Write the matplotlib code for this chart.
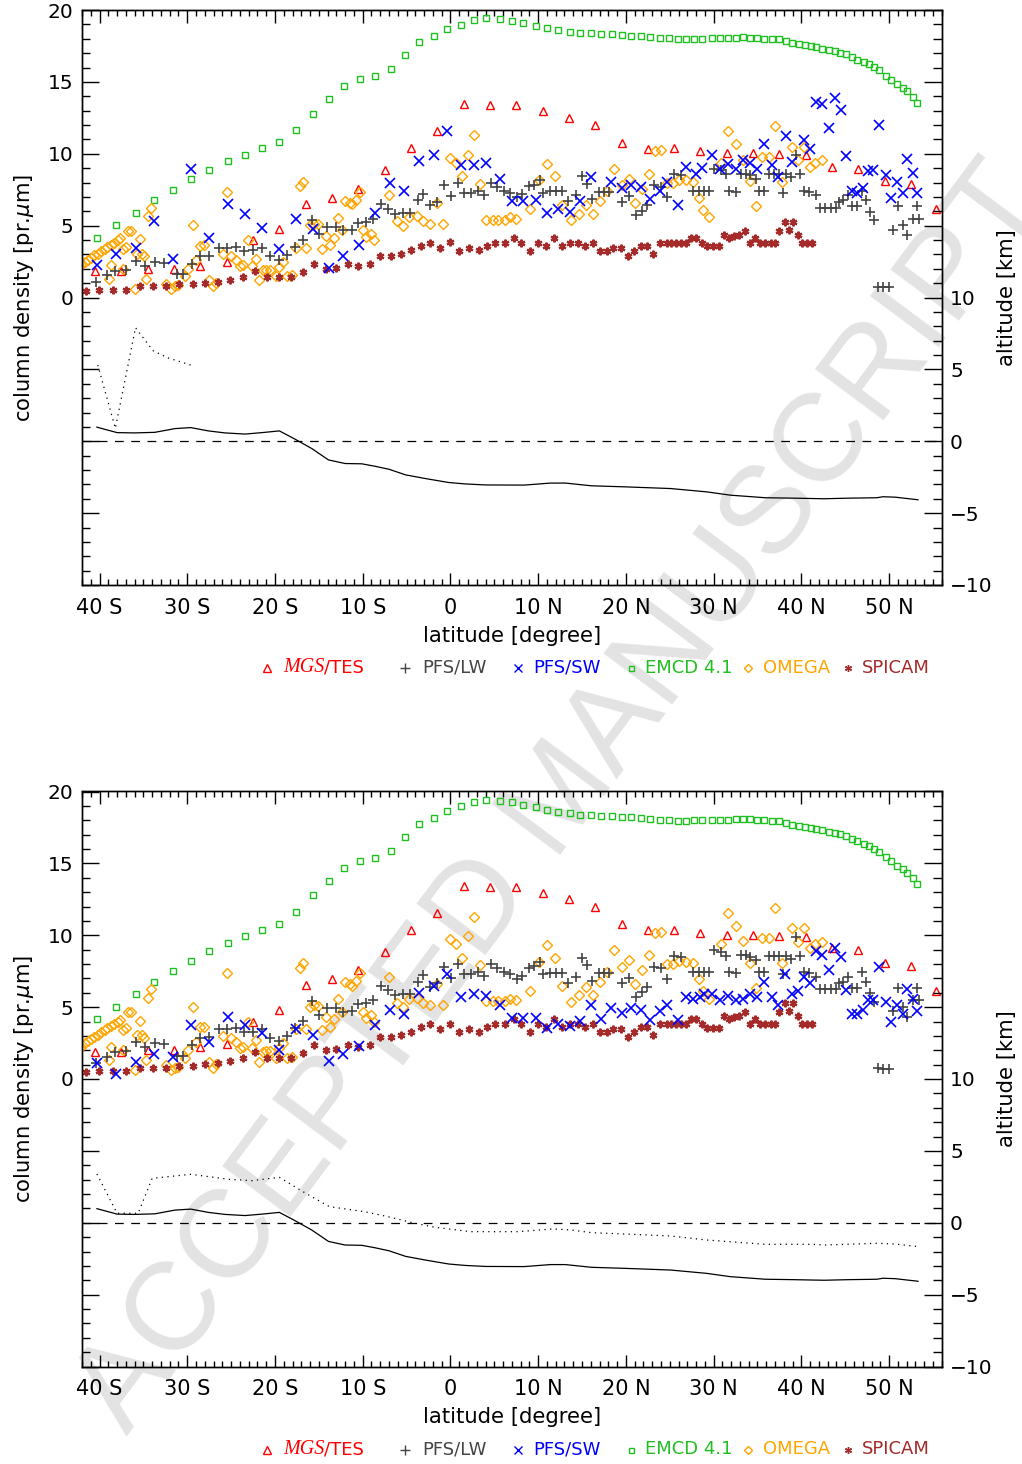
import numpy as np
import matplotlib
matplotlib.use("Agg")
import matplotlib.pyplot as plt
from matplotlib.ticker import MultipleLocator, FixedLocator, FuncFormatter
from matplotlib.lines import Line2D

plt.rcParams['font.family'] = ['DejaVu Sans']

# ---------------- data (latitude in degrees, column density in pr.um) ----------------
emcd_lat = [-40.3, -38.1, -35.8, -33.8, -31.6, -29.6, -27.5, -25.4, -23.4, -21.5, -19.5, -17.6,
            -15.7, -13.9, -12.1, -10.3, -8.6, -6.8, -5.2, -3.6, -1.9, -0.4, 1.2, 2.7, 4.1, 5.6,
            7.0, 8.3, 9.7, 11.0, 12.3, 13.6, 14.8, 16.0, 17.2, 18.4, 19.5, 20.6, 21.7, 22.8,
            23.9, 24.9, 25.9, 26.8, 27.8, 28.7, 29.8, 30.7, 31.6, 32.5, 33.3, 34.1, 34.9, 35.8,
            36.6, 37.4, 38.2, 38.9, 39.7, 40.4, 41.1, 41.7, 42.4, 43.1, 43.8, 44.4, 45.1, 45.8,
            46.4, 47.1, 47.7, 48.3, 48.9, 49.6, 50.2, 50.9, 51.6, 52.1, 52.7, 53.2]
emcd_val = [4.14, 5.02, 5.90, 6.76, 7.48, 8.22, 8.89, 9.47, 9.94, 10.38, 10.80, 11.63,
            12.79, 13.79, 14.69, 15.20, 15.38, 15.89, 16.85, 17.75, 18.19, 18.65, 18.98, 19.28,
            19.44, 19.35, 19.26, 19.09, 18.91, 18.72, 18.58, 18.49, 18.40, 18.38, 18.33, 18.31,
            18.26, 18.21, 18.17, 18.10, 18.05, 18.03, 17.96, 17.96, 18.00, 18.00, 18.05, 18.05,
            18.05, 18.07, 18.10, 18.07, 18.05, 18.00, 17.98, 17.96, 17.82, 17.70, 17.63, 17.56,
            17.47, 17.40, 17.29, 17.19, 17.12, 17.03, 16.91, 16.73, 16.54, 16.38, 16.24, 16.03,
            15.80, 15.43, 15.15, 14.85, 14.60, 14.36, 13.95, 13.55]

tes_lat = [-40.5, -37.5, -34.5, -31.5, -28.5, -25.5, -22.5, -19.5, -16.5, -13.5, -10.5, -7.5,
           -4.5, -1.5, 1.5, 4.5, 7.5, 10.5, 13.5, 16.5, 19.5, 22.5, 25.5, 28.5, 31.5, 34.5,
           37.5, 40.5, 43.5, 46.5, 49.5, 52.5, 55.3]
tes_val = [1.85, 1.85, 1.99, 1.99, 2.20, 2.45, 3.98, 4.77, 6.53, 6.95, 7.57, 8.85,
           10.40, 11.56, 13.46, 13.37, 13.37, 12.97, 12.49, 11.98, 10.75, 10.35, 10.40, 10.17,
           10.05, 10.05, 9.98, 9.89, 9.08, 8.94, 8.08, 7.87, 6.14]

spicam_lat = [-41.6, -40.1, -38.5, -37.0, -35.4, -33.9, -32.4, -30.9, -29.4, -28.0, -26.5, -25.1,
              -23.6, -22.3, -20.9, -19.5, -18.2, -16.8, -15.5, -14.2, -13.0, -11.7, -10.5, -9.2,
              -8.0, -6.8, -5.6, -4.5, -3.4, -2.3, -1.2, -0.1, 1.0, 2.1, 3.2, 4.2,
              5.1, 6.2, 7.2, 8.1, 9.1, 10.0, 10.9, 11.8, 12.7, 13.6, 14.5, 15.3,
              16.2, 17.0, 17.8, 18.5, 19.4, 20.2, 20.9, 21.7, 22.4, 23.1, 23.9, 24.7,
              25.1, 25.7, 26.3, 26.8, 27.4, 28.0, 28.7, 29.3, 29.9, 30.6, 31.2, 31.8,
              32.3, 32.9, 33.6, 34.2, 34.7, 35.3, 35.9, 36.5, 37.0, 37.4, 38.1, 38.6,
              39.1, 39.6, 40.1, 40.6, 41.2]
spicam_val = [0.46, 0.55, 0.55, 0.55, 0.78, 0.78, 0.78, 0.92, 0.92, 1.01, 1.08, 1.24,
              1.45, 1.85, 1.45, 1.45, 1.45, 1.78, 2.36, 2.01, 2.06, 2.36, 2.22, 2.36,
              2.91, 2.91, 3.05, 3.28, 3.61, 3.82, 3.47, 3.84, 3.26, 3.47, 3.28, 3.61,
              3.82, 3.82, 4.17, 3.82, 3.26, 3.82, 3.61, 4.17, 3.61, 3.82, 3.82, 3.61,
              3.82, 3.26, 3.26, 3.47, 3.47, 2.91, 3.26, 3.61, 3.61, 3.05, 3.82, 3.82,
              3.80, 3.80, 3.80, 3.80, 4.17, 4.17, 3.80, 3.56, 3.56, 3.56, 4.37, 4.17,
              4.30, 4.37, 4.63, 3.80, 4.17, 3.80, 3.80, 3.80, 3.80, 4.63, 5.28, 4.72,
              5.28, 4.37, 3.80, 3.80, 3.80]

lw_lat = [-40.4, -39.1, -38.2, -37.0, -35.9, -34.8, -33.7, -32.7, -31.2, -30.5, -29.5, -28.5,
          -27.5, -26.4, -25.5, -24.5, -23.5, -22.5, -21.5, -20.6, -19.6, -18.6, -17.7, -16.8,
          -15.8, -15.0, -14.1, -13.1, -12.2, -11.2, -10.5, -9.6, -8.8,
          -7.9, -7.1, -6.3, -5.4, -4.6, -3.7, -3.1, -2.3, -1.5, -0.7, 0.1, 0.9,
          1.6, 2.4, 3.1, 3.8, 4.6, 5.3, 6.1, 6.8, 7.6, 8.2, 8.9, 9.5,
          10.2, 10.5, 11.3, 12.0, 12.7, 13.4, 14.3, 15.0, 15.6, 16.1, 16.9, 17.5,
          18.1, 19.6, 20.4, 21.1, 21.8, 22.4, 23.2, 24.0, 24.7,
          25.5, 26.3, 27.6, 28.3, 28.9, 29.5, 30.1, 30.8, 31.4, 31.8, 32.5, 33.1,
          33.7, 34.2, 34.8, 35.2, 35.8, 36.3, 36.9, 37.5, 37.9, 38.2, 38.8, 39.4,
          39.8, 40.3, 40.9, 41.7, 42.1, 42.7, 43.4, 43.9, 44.3, 44.8, 45.3, 45.8,
          46.4, 46.9, 47.4, 47.8, 48.3, 48.7, 49.3, 50.0, 50.4, 51.0, 51.6, 52.1,
          52.7, 53.2, 53.4]
lw_val = [1.08, 1.55, 1.85, 1.94, 2.54, 2.22, 2.47, 2.43, 1.62, 1.62, 2.36, 2.87,
          2.91, 3.47, 3.47, 3.52, 3.24, 3.28, 3.47, 2.87, 2.63, 2.98, 3.52, 4.03,
          5.42, 4.44, 4.91, 4.91, 4.68, 4.72, 5.19, 5.26, 5.49,
          6.48, 6.18, 5.83, 5.90, 5.90, 6.76, 7.23, 6.41, 6.65, 7.80, 7.04, 7.97,
          7.30, 7.30, 7.41, 7.16, 7.97, 7.69, 7.41, 7.30, 6.99, 7.18, 7.73, 7.85,
          8.15, 7.27, 7.39, 7.39, 7.39, 6.69, 7.11, 8.45, 7.92, 6.83, 7.34, 7.34,
          7.34, 6.65, 7.04, 5.72, 6.02, 6.41, 7.80, 7.69, 6.99,
          8.57, 8.50, 7.41, 7.41, 7.41, 7.41, 8.96, 8.85, 8.57, 7.41, 7.34, 8.62,
          8.62, 8.50, 8.27, 7.41, 7.41, 8.57, 8.57, 8.57, 7.27, 8.57, 8.38, 9.89,
          8.57, 7.41, 7.34, 7.11, 6.25, 6.25, 6.25, 6.25, 6.65, 6.76, 7.11, 6.34,
          6.34, 7.41, 6.76, 5.95, 5.37, 0.75, 0.70, 0.70, 4.72, 6.34, 5.02, 4.33,
          5.49, 6.34, 5.49]

omega_lat = [-42.1, -41.7, -41.3, -41.0, -40.6, -40.2, -39.8, -39.4, -39.1, -38.7, -38.3, -37.9,
             -37.7, -38.7, -38.9, -37.3, -37.3, -37.0, -36.8, -36.4, -35.4, -35.7, -35.2, -34.9,
             -34.7, -34.5, -34.1, -36.0, -32.4, -31.8, -31.4, -31.1, -30.3, -29.9, -29.4, -29.0,
             -28.5, -28.1, -27.5, -27.1, -26.7, -25.9, -25.5, -25.0, -24.5, -24.0, -23.6, -23.1,
             -22.6, -22.2, -21.8, -21.4, -21.0, -20.6, -19.9, -19.5, -19.1, -18.6, -18.1, -17.6,
             -17.2, -16.8, -16.5, -16.0, -15.6, -15.1, -14.6, -14.2, -13.7, -13.3, -12.8, -12.4,
             -12.0, -11.5, -11.2, -10.8, -10.3, -10.0, -9.6, -9.0, -8.7,
             -7.0, -6.1, -5.4, -4.7, -3.8, -3.1, -2.3, -1.5, -0.8, -0.1, 0.6, 1.3,
             2.0, 2.7, 3.4, 4.1, 4.8, 5.4, 6.2, 6.8, 7.5, 9.1, 10.1, 11.0,
             11.9, 12.7, 13.7, 14.6, 15.4, 16.2, 17.1, 17.9, 18.7, 19.5, 20.3, 21.0,
             21.8, 22.6, 23.3, 24.0, 24.7,
             25.4, 26.1, 26.9, 27.6, 28.3, 28.8, 29.5, 30.8, 31.6, 32.5, 33.3, 34.1,
             34.8, 35.5, 36.3, 37.0, 37.8, 38.9, 39.6, 40.3, 41.0, 41.6, 42.4]
omega_val = [2.24, 2.47, 2.64, 2.78, 2.94, 3.05, 3.24, 3.38, 3.52, 3.68, 3.82, 3.98,
             4.12, 2.24, 1.29, 2.01, 3.40, 3.52, 4.63, 4.63, 4.05, 3.05, 3.05, 2.87,
             1.31, 5.65, 6.25, 0.62, 0.97, 0.62, 0.78, 0.85, 1.48, 2.01, 5.02, 2.59,
             3.61, 3.63, 1.20, 0.78, 1.01, 3.01, 7.34, 2.87, 2.59, 2.17, 2.24, 3.98,
             2.17, 2.71, 1.20, 1.89, 1.94, 1.94, 1.48, 2.13, 2.47, 1.48, 1.55, 3.47,
             7.74, 8.04, 3.47, 5.02, 5.14, 5.09, 3.40, 4.28, 3.63, 4.17, 5.56, 4.68,
             6.72, 6.58, 6.48, 6.81, 7.34, 4.68, 4.21, 4.44, 3.98,
             7.11, 5.30, 5.00, 5.60, 5.65, 5.30, 5.14, 6.60, 5.14, 9.71, 9.38, 8.45,
             9.94, 11.28, 7.92, 5.42, 5.42, 5.42, 5.42, 5.60, 5.49, 6.14, 8.15, 9.31,
             8.43, 6.46, 5.37, 5.83, 6.41, 5.83, 6.72, 7.41, 8.96, 7.80, 8.27, 6.58,
             7.57, 8.62, 10.19, 10.24, 7.97,
             7.97, 8.20, 8.15, 8.04, 6.95, 6.11, 5.60, 9.38, 11.58, 10.66, 9.59, 8.08,
             6.35, 9.78, 9.78, 11.93, 8.04, 10.47, 9.54, 10.47, 9.08, 9.36, 9.54]

# PFS/SW, upper panel
sw1_lat = [-40.3, -38.1, -35.9, -33.8, -31.6, -29.6, -27.5, -25.4, -23.4, -21.5, -19.5, -17.6,
           -15.7, -13.9, -12.2, -10.4, -8.6,
           -6.9, -5.3, -3.6, -1.9, -0.4, 1.2, 2.7, 4.1, 5.6, 7.0, 8.3, 9.7,
           11.0, 12.3, 13.6, 14.8, 16.0, 18.3, 19.5, 20.6, 21.7, 22.8, 23.9, 24.7,
           25.9, 26.8, 28.0, 28.7, 29.8, 30.7, 31.6, 32.5, 33.3, 34.1, 34.9, 35.8,
           36.6, 37.3, 38.2, 38.9, 40.3, 41.0, 41.7, 42.4, 43.1, 43.8, 44.5, 45.1,
           45.8, 46.3, 47.0, 47.6, 48.2, 48.8, 49.6, 50.2, 50.9, 51.6, 52.1, 52.7, 53.2]
sw1_val = [2.29, 3.05, 3.47, 5.30, 2.71, 8.96, 4.14, 6.48, 5.79, 4.86, 3.40, 5.49,
           4.75, 2.08, 2.87, 3.68, 5.90,
           7.97, 7.39, 9.47, 9.89, 11.56, 9.20, 9.20, 9.38, 8.27, 6.72, 6.69, 6.76,
           5.88, 6.18, 5.95, 6.69, 8.38, 8.04, 7.64, 7.85, 7.69, 6.83, 7.41, 8.04,
           6.41, 9.08, 8.62, 9.03, 9.89, 8.96, 9.31, 8.96, 9.54, 9.36, 8.96, 10.70,
           9.24, 8.38, 11.21, 9.43, 10.98, 10.35, 13.60, 13.48, 11.81, 13.90, 13.02, 9.82,
           7.41, 7.27, 7.64, 8.80, 8.85, 11.98, 8.50, 6.95, 8.04, 7.27, 9.66, 8.66, 7.27]

# PFS/SW, lower panel
sw2_lat = [-40.3, -38.1, -35.9, -33.8, -31.6, -29.6, -27.5, -25.4, -23.4, -21.5, -19.5, -17.6,
           -15.7, -13.9, -12.2, -10.4, -8.6,
           -6.9, -5.3, -3.6, -1.9, -0.4, 1.2, 2.7, 4.1, 5.6, 7.0, 8.3, 9.7,
           11.0, 12.3, 13.6, 14.8, 16.0, 17.2, 18.3, 19.5, 20.6, 21.7, 22.8, 23.9, 24.7,
           25.9, 26.8, 27.6, 28.4, 28.9, 29.8, 30.7, 31.6, 32.5, 33.3, 34.1, 34.9,
           35.8, 36.6, 37.3, 38.1, 38.9, 39.6, 40.3, 41.0, 41.7, 42.4, 43.1, 43.8,
           44.5, 45.1, 45.8, 46.3, 47.0, 47.6, 48.2, 48.8, 49.6, 50.2, 50.9, 51.6,
           52.1, 52.7, 53.2]
sw2_val = [1.08, 0.34, 1.19, 1.77, 1.54, 3.79, 2.58, 4.28, 3.79, 3.21, 2.05, 3.51,
           3.05, 1.24, 1.77, 2.28, 3.74,
           4.79, 4.55, 6.01, 6.48, 7.29, 5.71, 5.90, 5.76, 5.18, 4.21, 4.21, 4.21,
           3.58, 3.86, 3.70, 4.04, 5.18, 4.14, 4.95, 4.62, 4.95, 4.79, 4.09, 4.74, 5.13,
           4.09, 5.67, 5.60, 5.71, 5.94, 5.94, 5.48, 5.76, 5.48, 5.60, 5.94, 5.71,
           6.76, 5.71, 5.13, 7.29, 5.94, 6.13, 7.10, 6.69, 8.91, 8.61, 7.61, 9.14,
           8.49, 6.22, 4.51, 4.51, 4.83, 5.48, 5.48, 7.80, 5.37, 3.97, 5.13, 4.55,
           6.29, 5.60, 4.74]

# altitude curves [km]
surf_lat = [-40.3, -38.0, -36.0, -33.7, -31.4, -29.6, -27.6, -25.7, -23.4, -21.5, -19.5, -17.7,
            -15.8, -13.9, -12.0, -10.1, -8.6, -7.0, -5.1, -2.9, -0.2, 1.7, 4.0, 8.4,
            11.4, 13.1, 16.1, 19.8, 25.1, 29.2, 31.9, 35.9, 39.2, 42.6, 45.3, 48.6,
            49.3, 50.7, 53.3]
surf_alt = [0.98, 0.60, 0.58, 0.62, 0.88, 0.95, 0.72, 0.58, 0.50, 0.60, 0.72, 0.14,
            -0.51, -1.30, -1.55, -1.57, -1.74, -1.95, -2.34, -2.59, -2.87, -2.97, -3.04, -3.05,
            -2.91, -2.91, -3.10, -3.17, -3.29, -3.52, -3.75, -3.93, -3.96, -4.00, -3.96, -3.93,
            -3.86, -3.89, -4.07]

dot1_lat = [-40.2, -38.2, -35.9, -33.9, -32.2, -29.6]
dot1_alt = [5.3, 0.9, 7.9, 6.3, 5.8, 5.3]

dot2_lat = [-40.3, -38.0, -35.6, -34.0, -29.6, -25.2, -22.6, -19.5, -16.5, -13.8, -9.8, -7.1,
            -4.4, -1.7, 2.3, 7.7, 11.7, 13.7, 16.1, 19.8, 25.1, 29.2, 33.2, 35.9,
            41.3, 42.6, 46.0, 48.6, 50.7, 53.3]
dot2_alt = [3.39, 0.66, 0.66, 3.09, 3.37, 3.02, 2.93, 3.16, 2.05, 1.12, 0.77, 0.42,
            0.01, -0.32, -0.62, -0.62, -0.43, -0.50, -0.69, -0.78, -0.92, -1.20, -1.38, -1.50,
            -1.50, -1.55, -1.48, -1.43, -1.48, -1.66]

lat_ticks = [-40, -30, -20, -10, 0, 10, 20, 30, 40, 50]
lat_labels = ['40 S', '30 S', '20 S', '10 S', '0', '10 N', '20 N', '30 N', '40 N', '50 N']

RED = '#ff0000'
GRAY = '#444444'
BLUE = '#0000ff'
GREEN = '#20c020'
ORANGE = '#ffa500'
BROWN = '#a52a2a'
FS = 14.5
LFS = 15.2

W, H = 1022, 1464
fig = plt.figure(figsize=(W / 100, H / 100), dpi=100)


def draw_panel(top_px, sw_lat, sw_val, dot_lat, dot_alt):
    bottom = 1 - (top_px + 575) / H
    ax = fig.add_axes([82 / W, bottom, 859.7 / W, 575 / H])
    ax.set_facecolor('none')
    ax2 = ax.twinx()

    ax.plot(emcd_lat, emcd_val, ls='none', marker='s', ms=3.8, mfc='none', mec=GREEN, mew=1.0)
    ax.plot(tes_lat, tes_val, ls='none', marker='^', ms=5.4, mfc='none', mec=RED, mew=1.0)
    ax.plot(omega_lat, omega_val, ls='none', marker='D', ms=4.7, mfc='none', mec=ORANGE, mew=1.0)
    ax.plot(spicam_lat, spicam_val, ls='none', marker=(6, 2, 0), ms=5.5, mec=BROWN, mew=1.6)
    ax.plot(lw_lat, lw_val, ls='none', marker='+', ms=6.8, mec=GRAY, mew=1.2)
    ax.plot(sw_lat, sw_val, ls='none', marker='x', ms=7.0, mec=BLUE, mew=1.2)

    ax2.plot(surf_lat, surf_alt, color='black', lw=0.9)
    ax2.plot(dot_lat, dot_alt, color='black', lw=0.9, ls=(0, (1, 3.5)))
    ax2.axhline(0, color='black', lw=0.9, ls=(0, (7, 6)))

    ax.set_xlim(-42, 56)
    ax.set_ylim(-20, 20)
    ax2.set_ylim(-10, 30)

    ax.xaxis.set_major_locator(FixedLocator(lat_ticks))
    ax.set_xticklabels(lat_labels)
    ax.xaxis.set_minor_locator(MultipleLocator(1))
    for a in (ax, ax2):
        a.yaxis.set_major_locator(MultipleLocator(5))
        a.yaxis.set_minor_locator(MultipleLocator(1))
    ax.yaxis.set_major_formatter(FuncFormatter(lambda v, p: '%d' % v if v >= 0 else ''))
    ax2.yaxis.set_major_formatter(
        FuncFormatter(lambda v, p: ('%d' % v).replace('-', '\u2212') if v <= 10 else ''))

    ax.tick_params(axis='x', which='major', direction='in', length=9, width=1,
                   top=True, bottom=True, labelsize=15, pad=9)
    ax.tick_params(axis='x', which='minor', direction='in', length=4.5, width=1,
                   top=True, bottom=True)
    ax.tick_params(axis='y', which='major', direction='in', length=12, width=1,
                   left=True, right=False, labelsize=FS, pad=6)
    ax.tick_params(axis='y', which='minor', direction='in', length=6, width=1,
                   left=True, right=False)
    ax2.tick_params(axis='y', which='major', direction='in', length=13, width=1,
                    labelsize=FS, pad=6)
    ax2.tick_params(axis='y', which='minor', direction='in', length=6.5, width=1)
    for a in (ax, ax2):
        for s in a.spines.values():
            s.set_linewidth(1.0)

    ax.set_xlabel('latitude [degree]', fontsize=LFS, labelpad=6)
    yc = 1 - (top_px + 287.5) / H
    fig.text(24 / W, yc, r'column density [pr.$\mu$m]', rotation=90,
             ha='center', va='center', fontsize=LFS)
    fig.text(1007 / W, yc, 'altitude [km]', rotation=90,
             ha='center', va='center', fontsize=LFS)

    # legend row
    ly = 1 - (top_px + 658) / H
    sym = [(267, '^', RED, 5.2, 1.0, 'none'), (405, '+', GRAY, 7.5, 1.0, GRAY),
           (518, 'x', BLUE, 5.5, 1.0, BLUE), (631, 's', GREEN, 3.6, 1.0, 'none'),
           (748, 'D', ORANGE, 4.4, 1.0, 'none'), (848, (6, 2, 0), BROWN, 5.0, 1.0, BROWN)]
    for x, m, c, ms, mew, fc in sym:
        fig.add_artist(Line2D([x / W], [ly], transform=fig.transFigure, ls='none',
                              marker=m, ms=ms, mew=mew, mec=c, mfc=fc))
    fig.text(283 / W, ly, 'MGS', color=RED, fontsize=14.5, ha='left', va='center',
             family='Liberation Serif', style='italic')
    fig.text(324 / W, ly, '/TES', color=RED, fontsize=13, ha='left', va='center')
    fig.text(422 / W, ly, 'PFS/LW', color=GRAY, fontsize=13, ha='left', va='center')
    fig.text(533 / W, ly, 'PFS/SW', color=BLUE, fontsize=13, ha='left', va='center')
    fig.text(645 / W, ly, 'EMCD 4.1', color=GREEN, fontsize=13, ha='left', va='center')
    fig.text(763 / W, ly, 'OMEGA', color=ORANGE, fontsize=13, ha='left', va='center')
    fig.text(862 / W, ly, 'SPICAM', color=BROWN, fontsize=13, ha='left', va='center')
    return ax


draw_panel(10, sw1_lat, sw1_val, dot1_lat, dot1_alt)
draw_panel(791.5, sw2_lat, sw2_val, dot2_lat, dot2_alt)

# watermark behind everything
fig.text(0.550, 0.454, 'ACCEPTED MANUSCRIPT', rotation=53.3, rotation_mode='anchor',
         ha='center', va='center', fontsize=90, color='#e3e3e3',
         family='Liberation Sans', zorder=-5)

fig.savefig('out.png', dpi=100)
